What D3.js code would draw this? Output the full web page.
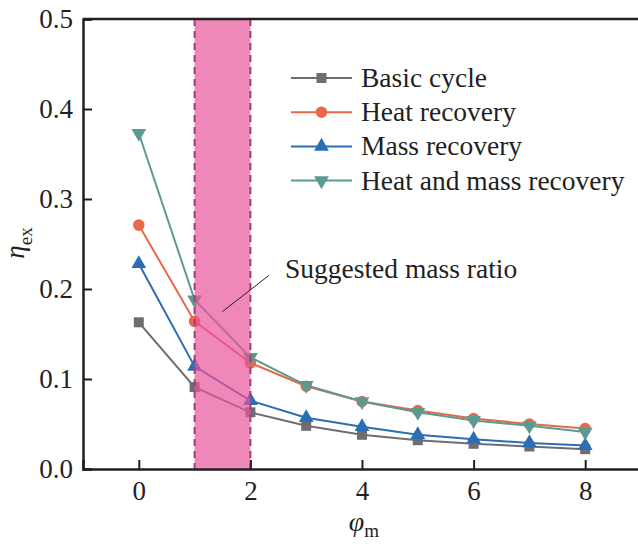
<!DOCTYPE html>
<html>
<head>
<meta charset="utf-8">
<script src="https://cdn.jsdelivr.net/npm/d3@7"></script>
<style>
  body { margin: 0; background: #fff; }
  svg { display: block; }
  svg text { font-family: "Liberation Serif", "Times New Roman", serif; }
</style>
</head>
<body>
<div id="chart"></div>
<script>
// data
const ratios = [0, 1, 2, 3, 4, 5, 6, 7, 8];
const basicCycle = [0.163, 0.091, 0.063, 0.048, 0.038, 0.032, 0.028, 0.025, 0.022];
const heatRecovery = [0.271, 0.164, 0.118, 0.092, 0.075, 0.065, 0.056, 0.050, 0.045];
const massRecovery = [0.228, 0.114, 0.076, 0.057, 0.047, 0.038, 0.033, 0.029, 0.026];
const heatMassRecovery = [0.373, 0.188, 0.124, 0.093, 0.075, 0.063, 0.054, 0.048, 0.041];
const xTicks = [0, 2, 4, 6, 8];
const yTicks = [0.0, 0.1, 0.2, 0.3, 0.4, 0.5];
const suggested = [1, 2];

const FONT = "Liberation Serif";

const series = [
  { name: "Basic cycle", values: basicCycle, color: "#6e6e72", symbol: d3.symbolSquare, size: 100 },
  { name: "Heat recovery", values: heatRecovery, color: "#e8694a", symbol: d3.symbolCircle, size: 105 },
  { name: "Mass recovery", values: massRecovery, color: "#2b6eb3", symbol: d3.symbolTriangle, size: 95, rot: 0 },
  { name: "Heat and mass recovery", values: heatMassRecovery, color: "#5b9a91", symbol: d3.symbolTriangle, size: 95, rot: 180 }
];

const W = 638, H = 547;
const margin = { top: 19, right: -3, bottom: 78, left: 83 };
const width = W - margin.left - margin.right,
  height = H - margin.top - margin.bottom;

const svg = d3.select("#chart").append("svg")
  .attr("width", W).attr("height", H);
const g = svg.append("g")
  .attr("transform", `translate(${margin.left},${margin.top})`);

const x = d3.scaleLinear().domain([-1, 9]).range([0, width]);
const y = d3.scaleLinear().domain([0, 0.5]).range([height, 0]);

// series lines and markers
const line = d3.line().x((d, i) => x(ratios[i])).y(d => y(d));
series.forEach(s => {
  g.append("path")
    .datum(s.values)
    .attr("fill", "none")
    .attr("stroke", s.color)
    .attr("stroke-width", 2)
    .attr("d", line);
  g.selectAll(null)
    .data(s.values)
    .join("path")
    .attr("d", d3.symbol().type(s.symbol).size(s.size))
    .attr("transform", (d, i) => `translate(${x(ratios[i])},${y(d)}) rotate(${s.rot || 0})`)
    .attr("fill", s.color);
});

// suggested mass ratio band
g.append("rect")
  .attr("x", x(suggested[0]))
  .attr("width", x(suggested[1]) - x(suggested[0]))
  .attr("y", 0)
  .attr("height", height)
  .attr("fill", "#e8549a")
  .attr("opacity", 0.7);
suggested.forEach(v => {
  g.append("line")
    .attr("x1", x(v)).attr("x2", x(v))
    .attr("y1", 0).attr("y2", height)
    .attr("stroke", "#a83a78")
    .attr("stroke-width", 2)
    .attr("stroke-dasharray", "7,5");
});

// axes
const yAxis = g.append("g")
  .call(d3.axisLeft(y).tickValues(yTicks).tickFormat(d3.format(".1f")).tickSize(-9).tickPadding(10));
const xAxis = g.append("g")
  .attr("transform", `translate(0,${height})`)
  .call(d3.axisBottom(x).tickValues(xTicks).tickSize(-9).tickPadding(12));
[yAxis, xAxis].forEach(a => {
  a.attr("font-family", FONT).attr("font-size", 27);
  a.select(".domain").attr("stroke", "#231f20").attr("stroke-width", 2.5);
  a.selectAll(".tick line").attr("stroke", "#231f20").attr("stroke-width", 2);
  a.selectAll(".tick text").attr("fill", "#231f20")
    .attr("font-family", FONT).attr("font-size", 27);
});
g.append("line")
  .attr("x1", 0).attr("x2", width)
  .attr("y1", 0).attr("y2", 0)
  .attr("stroke", "#231f20").attr("stroke-width", 2.5);

// axis titles
const yt = svg.append("text")
  .attr("transform", "translate(24,243) rotate(-90)")
  .attr("text-anchor", "middle")
  .attr("fill", "#231f20")
  .attr("font-family", FONT)
  .attr("font-size", 27);
yt.append("tspan").attr("font-style", "italic").text("η");
yt.append("tspan").attr("dy", 8).attr("font-size", 19).text("ex");

const xt = svg.append("text")
  .attr("x", 364).attr("y", 531)
  .attr("text-anchor", "middle")
  .attr("fill", "#231f20")
  .attr("font-family", FONT)
  .attr("font-size", 28);
xt.append("tspan").attr("font-style", "italic").text("φ");
xt.append("tspan").attr("dy", 6).attr("font-size", 19).text("m");

// annotation
g.append("line")
  .attr("x1", x(1.5)).attr("y1", y(0.175))
  .attr("x2", x(2.33)).attr("y2", y(0.215))
  .attr("stroke", "#231f20").attr("stroke-width", 1);
svg.append("text")
  .attr("x", 285).attr("y", 278)
  .attr("fill", "#231f20")
  .attr("font-family", FONT)
  .attr("font-size", 27.5)
  .text("Suggested mass ratio");

// legend
const legend = svg.append("g").attr("transform", "translate(291,78)");
series.forEach((s, i) => {
  const row = legend.append("g").attr("transform", `translate(0,${i * 34.2})`);
  row.append("line")
    .attr("x1", 0).attr("x2", 61)
    .attr("stroke", s.color).attr("stroke-width", 2);
  row.append("path")
    .attr("d", d3.symbol().type(s.symbol).size(s.size))
    .attr("transform", `translate(30.5,0) rotate(${s.rot || 0})`)
    .attr("fill", s.color);
  row.append("text")
    .attr("x", 70).attr("y", 0).attr("dy", "0.33em")
    .attr("fill", "#231f20")
    .attr("font-family", FONT)
    .attr("font-size", 27.5)
    .text(s.name);
});
</script>
</body>
</html>
